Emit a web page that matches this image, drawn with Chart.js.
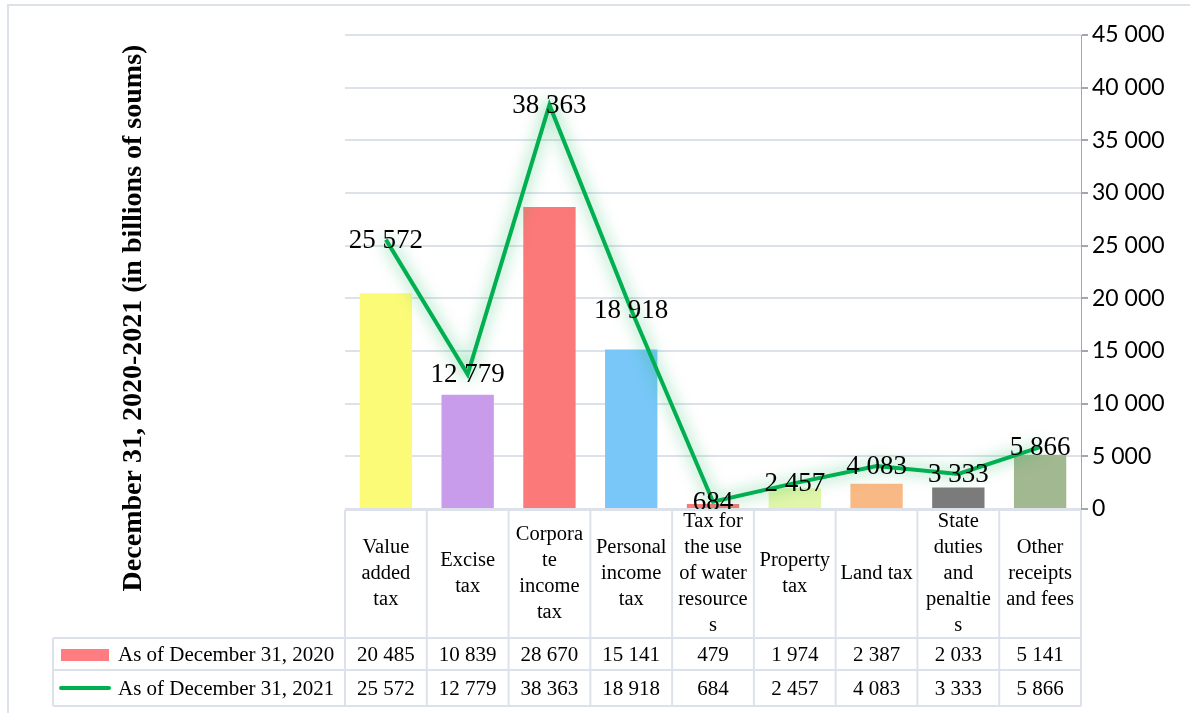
<!DOCTYPE html>
<html lang="en">
<head>
<meta charset="UTF-8">
<title>Tax receipts 2020-2021</title>
<script src="https://cdn.jsdelivr.net/npm/chart.js"></script>
<style>
  html, body { margin: 0; padding: 0; background: #fff; }
  #wrap { position: relative; width: 1190px; height: 713px; }
</style>
</head>
<body>
<div id="wrap"><canvas id="myChart" width="1190" height="713"></canvas></div>
<script>
// category names, already split into lines the way the table shows them
const categories = [
  ["Value", "added", "tax"],
  ["Excise", "tax"],
  ["Corpora", "te", "income", "tax"],
  ["Personal", "income", "tax"],
  ["Tax for", "the use", "of water", "resource", "s"],
  ["Property", "tax"],
  ["Land tax"],
  ["State", "duties", "and", "penaltie", "s"],
  ["Other", "receipts", "and fees"]
];
const values2020 = [20485, 10839, 28670, 15141, 479, 1974, 2387, 2033, 5141];
const values2021 = [25572, 12779, 38363, 18918, 684, 2457, 4083, 3333, 5866];
const seriesNames = ["As of December 31, 2020", "As of December 31, 2021"];
const barColors = ["#FBFB78", "#C89BEB", "#FC7979", "#78C7F8", "#FC7979",
                   "#E2F6AA", "#F9B985", "#7B7B7B", "#A2B890"];
const yTicks = [0, 5000, 10000, 15000, 20000, 25000, 30000, 35000, 40000, 45000];
const yTitle = "December 31, 2020-2021 (in billions of soums)";

const serif = "'Liberation Serif', 'Times New Roman', serif";
const gridCol = "#DDE2EA";

function fmt(v) {
  return String(v).replace(/\B(?=(\d{3})+(?!\d))/g, " ");
}

// green glow under the 2021 line
const glow = {
  id: "glow",
  beforeDatasetDraw(chart, args) {
    if (args.index !== 1) return;
    chart.ctx.save();
    chart.ctx.shadowColor = "rgba(0,176,80,0.7)";
    chart.ctx.shadowBlur = 16;
  },
  afterDatasetDraw(chart, args) {
    if (args.index !== 1) return;
    chart.ctx.restore();
  }
};

// frame, y title, point labels and the data table
const extras = {
  id: "extras",
  beforeDraw(chart) {
    const ctx = chart.ctx;
    ctx.save();
    ctx.strokeStyle = gridCol;
    ctx.lineWidth = 2;
    ctx.beginPath();
    ctx.moveTo(1190, 5); ctx.lineTo(8, 5); ctx.lineTo(8, 713);
    ctx.stroke();
    ctx.restore();
  },
  afterDraw(chart) {
    const ctx = chart.ctx;
    const x = chart.scales.x, y = chart.scales.y;
    const area = chart.chartArea;
    const n = categories.length;
    const cw = (area.right - area.left) / n;

    ctx.save();
    // y title
    ctx.translate(134, 318);
    ctx.rotate(-Math.PI / 2);
    ctx.font = "bold 28px " + serif;
    ctx.fillStyle = "#000";
    ctx.textAlign = "center";
    ctx.textBaseline = "middle";
    ctx.fillText(yTitle, 0, 0);
    ctx.restore();

    // labels on the 2021 line
    ctx.save();
    ctx.font = "27px " + serif;
    ctx.fillStyle = "#000";
    ctx.textAlign = "center";
    ctx.textBaseline = "middle";
    values2021.forEach((v, i) => {
      ctx.fillText(fmt(v), x.getPixelForValue(i), y.getPixelForValue(v) + 1);
    });
    ctx.restore();

    // table
    const top = area.bottom + 1, headBottom = 638, r1 = 670, r2 = 706, legL = 53;
    ctx.save();
    ctx.strokeStyle = gridCol;
    ctx.lineWidth = 2;
    ctx.beginPath();
    ctx.moveTo(area.left, top); ctx.lineTo(area.right, top);
    ctx.moveTo(legL, headBottom); ctx.lineTo(area.right, headBottom);
    ctx.moveTo(legL, r1); ctx.lineTo(area.right, r1);
    ctx.moveTo(legL, r2); ctx.lineTo(area.right, r2);
    ctx.moveTo(legL, headBottom); ctx.lineTo(legL, r2);
    for (let i = 0; i <= n; i++) {
      const xx = area.left + i * cw;
      ctx.moveTo(xx, top); ctx.lineTo(xx, r2);
    }
    ctx.stroke();

    ctx.fillStyle = "#000";
    ctx.textAlign = "center";
    ctx.textBaseline = "middle";
    ctx.font = "20.5px " + serif;
    const lh = 26;
    const hc = (top + headBottom) / 2;
    categories.forEach((lines, i) => {
      const cx = x.getPixelForValue(i);
      const y0 = hc - (lines.length - 1) * lh / 2;
      lines.forEach((t, k) => ctx.fillText(t, cx, y0 + k * lh));
    });
    ctx.font = "21px " + serif;
    const rc1 = (headBottom + r1) / 2 + 1, rc2 = (r1 + r2) / 2 + 1;
    values2020.forEach((v, i) => ctx.fillText(fmt(v), x.getPixelForValue(i), rc1));
    values2021.forEach((v, i) => ctx.fillText(fmt(v), x.getPixelForValue(i), rc2));

    // legend keys
    ctx.fillStyle = "#FF7C80";
    ctx.fillRect(61, rc1 - 6, 48, 12);
    ctx.strokeStyle = "#00B050";
    ctx.lineWidth = 4;
    ctx.lineCap = "round";
    ctx.beginPath();
    ctx.moveTo(61, rc2 - 1); ctx.lineTo(109, rc2 - 1);
    ctx.stroke();
    ctx.fillStyle = "#000";
    ctx.textAlign = "left";
    ctx.fillText(seriesNames[0], 118, rc1);
    ctx.fillText(seriesNames[1], 118, rc2);
    ctx.restore();
  }
};

new Chart(document.getElementById("myChart"), {
  data: {
    labels: categories,
    datasets: [
      {
        type: "bar",
        label: seriesNames[0],
        data: values2020,
        backgroundColor: barColors,
        categoryPercentage: 1,
        barPercentage: 0.64,
        order: 2
      },
      {
        type: "line",
        label: seriesNames[1],
        data: values2021,
        borderColor: "#00B050",
        borderWidth: 4,
        pointRadius: 0,
        tension: 0,
        order: 1
      }
    ]
  },
  options: {
    responsive: false,
    animation: false,
    layout: { padding: { left: 345, right: 12, top: 35, bottom: 204 } },
    plugins: { legend: { display: false }, tooltip: { enabled: false } },
    scales: {
      x: { display: false, offset: true },
      y: {
        position: "right",
        min: 0,
        max: 45000,
        afterBuildTicks(scale) { scale.ticks = yTicks.map(v => ({ value: v })); },
        afterFit(scale) { scale.width = 97; },
        border: { display: true, color: "#A6A6A6", width: 1 },
        grid: { color: gridCol, lineWidth: 2, tickLength: 7, tickColor: "#A6A6A6" },
        ticks: {
          color: "#000",
          padding: 4,
          font: { family: "Lato, 'Open Sans', sans-serif", size: 23 },
          callback: v => fmt(v)
        }
      }
    }
  },
  plugins: [glow, extras]
});
</script>
</body>
</html>
